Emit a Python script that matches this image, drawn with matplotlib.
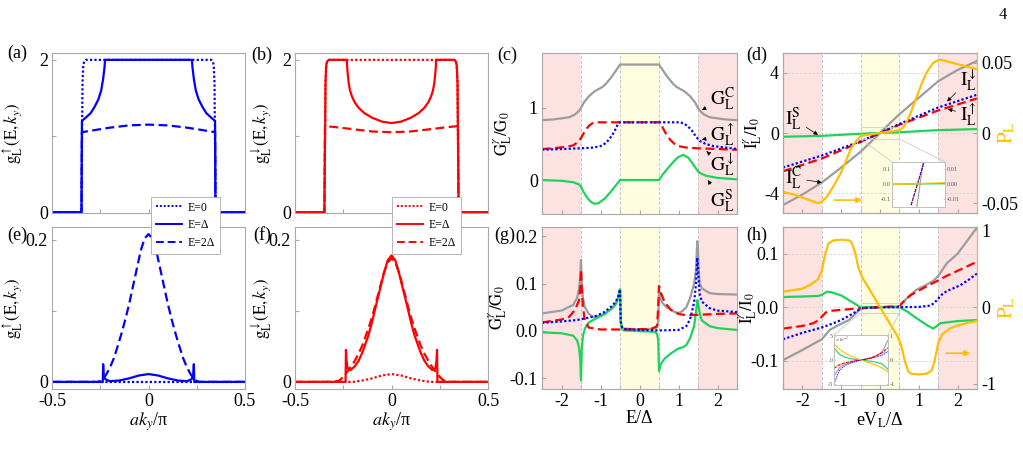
import numpy as np
import matplotlib.pyplot as plt
from matplotlib.lines import Line2D
from matplotlib.patches import Rectangle, ConnectionPatch

plt.rcParams['font.family'] = ['Liberation Serif', 'DejaVu Serif']
plt.rcParams['mathtext.fontset'] = 'stix'
plt.rcParams['axes.unicode_minus'] = False
plt.rcParams['font.size'] = 13

BLUE = '#0000ff'; RED = '#ff0000'; GRAY = '#9c9c9c'; GREEN = '#1fd35a'; GOLD = '#ffbf00'
PINK = '#fde2e2'; YELLOW = '#fefde0'; FRAME = '#a8a8a8'

# ---------------- panel (a): g_L^up, blue ----------------
ka_dot = [-0.5, -0.348, -0.345, -0.342, -0.338, -0.333, -0.325, 0.325, 0.333, 0.338, 0.342, 0.345, 0.348, 0.5]
ga_dot = [0, 0, 0.8, 1.7, 1.93, 1.98, 2.0, 2.0, 1.98, 1.93, 1.7, 0.8, 0, 0]
ka_sol = [-0.5, -0.347, -0.345, -0.33, -0.30, -0.28, -0.26, -0.245, -0.235, -0.228, -0.225,
          0.225, 0.228, 0.235, 0.245, 0.26, 0.28, 0.30, 0.33, 0.345, 0.347, 0.5]
ga_sol = [0, 0, 1.2, 1.23, 1.3, 1.38, 1.48, 1.6, 1.75, 1.9, 2.0,
          2.0, 1.9, 1.75, 1.6, 1.48, 1.38, 1.3, 1.23, 1.2, 0, 0]
ka_dash = [-0.5, -0.347, -0.345, -0.3, -0.2, -0.1, 0, 0.1, 0.2, 0.3, 0.345, 0.347, 0.5]
ga_dash = [0, 0, 1.05, 1.07, 1.11, 1.14, 1.15, 1.14, 1.11, 1.07, 1.05, 0, 0]

# ---------------- panel (b): g_L^down, red ----------------
kb_dot = ka_dot
gb_dot = ga_dot
kb_sol = [-0.5, -0.348, -0.345, -0.342, -0.338, -0.333, -0.325,
          -0.232, -0.228, -0.222, -0.215, -0.205, -0.19, -0.17, -0.14, -0.1, -0.05, 0,
          0.05, 0.1, 0.14, 0.17, 0.19, 0.205, 0.215, 0.222, 0.228, 0.232,
          0.325, 0.333, 0.338, 0.342, 0.345, 0.348, 0.5]
gb_sol = [0, 0, 0.8, 1.7, 1.93, 1.98, 2.0,
          2.0, 1.85, 1.7, 1.6, 1.52, 1.44, 1.37, 1.3, 1.24, 1.19, 1.17,
          1.19, 1.24, 1.3, 1.37, 1.44, 1.52, 1.6, 1.7, 1.85, 2.0,
          2.0, 1.98, 1.93, 1.7, 0.8, 0, 0]
kb_dash = [-0.5, -0.347, -0.345, -0.3, -0.2, -0.1, 0, 0.1, 0.2, 0.3, 0.345, 0.347, 0.5]
gb_dash = [0, 0, 1.13, 1.12, 1.09, 1.06, 1.05, 1.06, 1.09, 1.12, 1.13, 0, 0]

# ---------------- panel (e): blue ----------------
ke_dot = [-0.5, 0.5]
ge_dot = [0, 0]
ke_sol = [-0.5, -0.237, -0.235, -0.232, -0.225, -0.2, -0.15, -0.1, -0.05, 0,
          0.05, 0.1, 0.15, 0.2, 0.225, 0.232, 0.235, 0.237, 0.5]
ge_sol = [0, 0, 0.025, 0.01, 0.004, 0.001, 0.002, 0.005, 0.009, 0.011,
          0.009, 0.005, 0.002, 0.001, 0.004, 0.01, 0.025, 0, 0]
ke_dash = [-0.5, -0.26, -0.24, -0.22, -0.2, -0.18, -0.16, -0.14, -0.12, -0.1, -0.08, -0.06, -0.04, -0.02, 0,
           0.02, 0.04, 0.06, 0.08, 0.1, 0.12, 0.14, 0.16, 0.18, 0.2, 0.22, 0.24, 0.26, 0.5]
ge_dash = [0, 0, 0.003, 0.01, 0.02, 0.033, 0.05, 0.068, 0.088, 0.11, 0.135, 0.16, 0.185, 0.202, 0.208,
           0.202, 0.185, 0.16, 0.135, 0.11, 0.088, 0.068, 0.05, 0.033, 0.02, 0.01, 0.003, 0, 0]

# ---------------- panel (f): red ----------------
kf_dot = [-0.5, -0.2, -0.15, -0.1, -0.05, 0, 0.05, 0.1, 0.15, 0.2, 0.5]
gf_dot = [0, 0, 0.002, 0.005, 0.009, 0.011, 0.009, 0.005, 0.002, 0, 0]
kf_sol = [-0.5, -0.238, -0.236, -0.233, -0.228, -0.22, -0.21, -0.19, -0.17, -0.15, -0.12, -0.1, -0.08,
          -0.06, -0.04, -0.02, 0, 0.02, 0.04, 0.06, 0.08, 0.1, 0.12, 0.15, 0.17, 0.19, 0.21, 0.22,
          0.228, 0.233, 0.236, 0.238, 0.5]
gf_sol = [0, 0, 0.045, 0.03, 0.02, 0.017, 0.017, 0.022, 0.03, 0.042, 0.065, 0.085, 0.108,
          0.13, 0.152, 0.171, 0.178, 0.171, 0.152, 0.13, 0.108, 0.085, 0.065, 0.042, 0.03, 0.022, 0.017, 0.017,
          0.02, 0.03, 0.045, 0, 0]
kf_dash = [-0.5, -0.3, -0.27, -0.25, -0.23, -0.2, -0.17, -0.15, -0.12, -0.1, -0.08, -0.06, -0.04, -0.02, 0,
           0.02, 0.04, 0.06, 0.08, 0.1, 0.12, 0.15, 0.17, 0.2, 0.23, 0.25, 0.27, 0.3, 0.5]
gf_dash = [0, 0, 0.002, 0.007, 0.014, 0.025, 0.04, 0.052, 0.075, 0.092, 0.112, 0.133, 0.153, 0.168, 0.174,
           0.168, 0.153, 0.133, 0.112, 0.092, 0.075, 0.052, 0.04, 0.025, 0.014, 0.007, 0.002, 0, 0]

# ---------------- panel (c): conductances ----------------
E_cC = [-2.5, -2.2, -2.0, -1.8, -1.65, -1.55, -1.5, -1.42, -1.3, -1.15, -1.05, -0.95, -0.85, -0.7, -0.6, -0.5,
        0.5, 0.6, 0.7, 0.85, 0.95, 1.05, 1.15, 1.3, 1.42, 1.5, 1.55, 1.65, 1.8, 2.0, 2.2, 2.5]
G_cC = [0.83, 0.84, 0.855, 0.87, 0.91, 0.96, 1.0, 1.08, 1.16, 1.23, 1.26, 1.29, 1.34, 1.44, 1.52, 1.6,
        1.6, 1.52, 1.44, 1.34, 1.29, 1.26, 1.23, 1.16, 1.08, 1.0, 0.96, 0.91, 0.87, 0.855, 0.84, 0.83]
E_cU = [-2.5, -2.0, -1.5, -1.2, -1.0, -0.9, -0.8, -0.7, -0.6, -0.55, -0.5,
        1.05, 1.15, 1.25, 1.35, 1.45, 1.55, 1.7, 1.9, 2.2, 2.5]
G_cU = [0.42, 0.43, 0.44, 0.45, 0.47, 0.5, 0.55, 0.62, 0.72, 0.78, 0.8,
        0.8, 0.78, 0.74, 0.68, 0.6, 0.54, 0.5, 0.47, 0.45, 0.43]
E_cD = [-2.5, -2.2, -1.9, -1.7, -1.6, -1.5, -1.4, -1.3, -1.2, -1.1,
        0.5, 0.55, 0.6, 0.7, 0.8, 0.9, 1.0, 1.2, 1.5, 2.0, 2.5]
G_cD = [0.43, 0.44, 0.46, 0.48, 0.52, 0.58, 0.68, 0.75, 0.79, 0.8,
        0.8, 0.78, 0.72, 0.62, 0.55, 0.5, 0.47, 0.45, 0.44, 0.43, 0.42]
E_cS = [-2.5, -2.0, -1.7, -1.55, -1.5, -1.45, -1.35, -1.25, -1.15, -1.05, -0.9, -0.75, -0.6, -0.5,
        0.5, 0.6, 0.75, 0.9, 1.0, 1.12, 1.25, 1.35, 1.45, 1.5, 1.55, 1.7, 2.0, 2.5]
G_cS = [0.0, -0.01, -0.03, -0.06, -0.09, -0.15, -0.24, -0.3, -0.33, -0.32, -0.26, -0.17, -0.07, 0.0,
        0.0, 0.08, 0.18, 0.27, 0.32, 0.35, 0.31, 0.24, 0.16, 0.12, 0.1, 0.06, 0.03, 0.01]

# ---------------- panel (g) ----------------
E_gC = [-2.5, -2.0, -1.7, -1.6, -1.55, -1.52, -1.5, -1.48, -1.45, -1.4, -1.3, -1.2, -1.1, -0.9, -0.7, -0.6,
        -0.53, -0.5, -0.48, -0.45, -0.4, 0, 0.4, 0.45, 0.48, 0.5, 0.53, 0.6, 0.7, 0.9, 1.0, 1.1, 1.2, 1.3,
        1.4, 1.45, 1.48, 1.5, 1.52, 1.55, 1.6, 1.8, 2.0, 2.5]
G_gC = [0.037, 0.043, 0.055, 0.07, 0.09, 0.115, 0.15, 0.1, 0.07, 0.05, 0.036, 0.03, 0.03, 0.036, 0.048, 0.058,
        0.075, 0.088, 0.02, 0.008, 0.005, 0.003, 0.005, 0.008, 0.02, 0.09, 0.07, 0.058, 0.05, 0.04, 0.038, 0.042,
        0.05, 0.07, 0.1, 0.13, 0.19, 0.17, 0.12, 0.1, 0.09, 0.08, 0.078, 0.077]
E_gU = [-2.5, -2.0, -1.6, -1.5, -1.3, -1.1, -0.9, -0.7, -0.6, -0.55, -0.5, -0.48, -0.45, -0.4, 0, 0.5, 1.0,
        1.2, 1.3, 1.4, 1.45, 1.48, 1.5, 1.52, 1.55, 1.6, 1.8, 2.0, 2.5]
G_gU = [0.017, 0.02, 0.023, 0.025, 0.028, 0.032, 0.04, 0.053, 0.063, 0.072, 0.088, 0.02, 0.008, 0.004, 0.002,
        0.001, 0.002, 0.01, 0.025, 0.06, 0.1, 0.155, 0.14, 0.1, 0.075, 0.062, 0.048, 0.043, 0.04]
E_gD = [-2.5, -2.0, -1.8, -1.65, -1.55, -1.52, -1.5, -1.48, -1.45, -1.4, -1.3, -1.0, -0.5, 0.3, 0.45, 0.48,
        0.5, 0.55, 0.65, 0.8, 1.0, 1.2, 1.5, 2.0, 2.5]
G_gD = [0.018, 0.024, 0.03, 0.045, 0.065, 0.09, 0.13, 0.09, 0.05, 0.022, 0.007, 0.003, 0.003, 0.004, 0.01, 0.05,
        0.095, 0.08, 0.06, 0.045, 0.036, 0.033, 0.034, 0.036, 0.037]
E_gS = [-2.5, -2.0, -1.7, -1.6, -1.55, -1.52, -1.5, -1.48, -1.45, -1.4, -1.3, -1.1, -0.9, -0.7, -0.6, -0.55,
        -0.5, -0.48, -0.45, -0.4, 0.4, 0.45, 0.48, 0.5, 0.55, 0.65, 0.8, 1.0, 1.1, 1.2, 1.3, 1.4, 1.45, 1.48,
        1.5, 1.55, 1.6, 1.8, 2.0, 2.5]
G_gS = [-0.003, -0.005, -0.01, -0.02, -0.035, -0.06, -0.105, -0.04, -0.01, 0.005, 0.018, 0.027, 0.035, 0.048,
        0.058, 0.07, 0.088, 0.015, 0.004, 0.001, -0.002, -0.006, -0.02, -0.085, -0.07, -0.058, -0.048, -0.037,
        -0.035, -0.03, -0.015, 0.01, 0.04, 0.065, 0.06, 0.035, 0.022, 0.01, 0.006, 0.002]

# ---------------- panel (d): currents ----------------
V_dC = [-2.5, -2.0, -1.5, -1.0, -0.5, -0.25, 0, 0.25, 0.5, 1.0, 1.5, 2.0, 2.5]
I_dC = [-4.8, -4.1, -3.3, -2.3, -1.25, -0.63, 0, 0.63, 1.25, 2.35, 3.45, 4.2, 4.8]
V_dD = [-2.5, -1.5, -0.5, 0, 0.5, 1.5, 2.5]
I_dD = [-2.3, -1.5, -0.55, 0, 0.6, 1.7, 2.55]
V_dU = [-2.5, -1.5, -0.5, 0, 0.5, 1.5, 2.5]
I_dU = [-2.55, -1.7, -0.6, 0, 0.55, 1.5, 2.3]
V_dS = [-2.5, -1.5, -1.0, -0.5, 0, 0.5, 1.0, 1.5, 2.5]
I_dS = [-0.25, -0.19, -0.12, -0.05, 0, 0.05, 0.12, 0.19, 0.26]
V_dP = [-2.5, -2.2, -1.9, -1.7, -1.6, -1.5, -1.37, -1.2, -1.0, -0.85, -0.73, -0.62, -0.55, -0.5, 0,
        0.5, 0.6, 0.69, 0.8, 0.95, 1.1, 1.2, 1.37, 1.5, 1.6, 2.0, 2.5]
P_d = [-0.042, -0.044, -0.047, -0.049, -0.05, -0.049, -0.0455, -0.038, -0.028, -0.018, -0.01, -0.006, -0.0038,
       -0.0021, 0, 0.002, 0.004, 0.008, 0.015, 0.026, 0.037, 0.043, 0.05, 0.052, 0.052, 0.049, 0.0455]

# ---------------- panel (h) ----------------
V_hC = [-2.5, -2.0, -1.5, -1.29, -1.0, -0.8, -0.6, -0.5, -0.4, 0, 0.4, 0.5, 0.6, 0.8, 0.95, 1.2, 1.37, 1.5,
        1.72, 2.0, 2.5]
I_hC = [-0.099, -0.08, -0.06, -0.042, -0.031, -0.024, -0.01, -0.003, -0.001, 0, 0.001, 0.002, 0.01, 0.024,
        0.033, 0.042, 0.049, 0.058, 0.082, 0.1, 0.149]
V_hD = [-2.5, -2.0, -1.72, -1.6, -1.5, -1.4, -1.3, -1.0, -0.5, 0, 0.5, 0.6, 0.78, 1.0, 1.2, 1.5, 1.7, 2.0, 2.5]
I_hD = [-0.04, -0.035, -0.03, -0.025, -0.018, -0.01, -0.007, -0.005, -0.002, 0, 0.002, 0.01, 0.022, 0.031,
        0.039, 0.05, 0.058, 0.068, 0.085]
V_hU = [-2.5, -2.0, -1.5, -1.2, -1.0, -0.7, -0.55, -0.5, 0, 0.5, 1.0, 1.3, 1.4, 1.5, 1.6, 1.72, 2.07, 2.3, 2.5]
I_hU = [-0.06, -0.048, -0.038, -0.03, -0.024, -0.012, -0.005, -0.002, 0, 0.0, 0.0005, 0.003, 0.008, 0.016,
        0.024, 0.03, 0.041, 0.052, 0.063]
V_hS = [-2.5, -2.0, -1.6, -1.5, -1.37, -1.25, -1.0, -0.73, -0.5, 0.5, 0.7, 0.95, 1.2, 1.37, 1.45, 1.55, 2.0, 2.5]
I_hS = [0.019, 0.02, 0.021, 0.023, 0.029, 0.028, 0.022, 0.01, 0.0, 0.0, -0.008, -0.021, -0.033, -0.04, -0.036,
        -0.03, -0.026, -0.024]
V_hP = [-2.5, -2.0, -1.8, -1.6, -1.5, -1.41, -1.33, -1.2, -1.0, -0.8, -0.73, -0.64, -0.55, -0.45, -0.34, -0.2, 0,
        0.2, 0.34, 0.45, 0.55, 0.64, 0.73, 0.8, 1.0, 1.2, 1.33, 1.41, 1.5, 1.6, 1.8, 2.0, 2.5]
P_h = [0.2, 0.24, 0.29, 0.36, 0.47, 0.7, 0.83, 0.87, 0.88, 0.87, 0.84, 0.71, 0.5, 0.38, 0.29, 0.17, 0.0,
       -0.17, -0.29, -0.38, -0.5, -0.71, -0.84, -0.87, -0.88, -0.87, -0.83, -0.7, -0.47, -0.36, -0.28, -0.24, -0.18]

# ---------------- insets ----------------
xd_C = [-0.003, 0.009]; yd_C = [-0.15, 0.15]
xd_UD = [-0.014, 0.011]; yd_UD = [-0.14, 0.15]
xd_S = [-0.05, 0.05]; yd_S = [-0.002, 0.002]
xd_P = [-0.05, 0.05]; yd_P = [-0.0005, 0.0008]

xh = [-0.5, -0.4, -0.3, -0.2, -0.1, 0, 0.1, 0.2, 0.3, 0.4, 0.5]
yh_C = [-3.5, -1.6, -0.9, -0.5, -0.2, 0, 0.2, 0.5, 1.0, 1.9, 4.2]
yh_U = [-5.0, -2.2, -1.2, -0.7, -0.3, 0, 0.2, 0.4, 0.7, 1.1, 1.8]
yh_D = [-1.8, -1.0, -0.6, -0.35, -0.15, 0, 0.2, 0.5, 1.0, 1.6, 2.6]
yh_S = [2.6, 1.2, 0.6, 0.3, 0.1, 0, -0.15, -0.3, -0.5, -0.9, -2.0]
yh_P = [0.68, 0.45, 0.3, 0.18, 0.08, 0, -0.08, -0.15, -0.24, -0.35, -0.5]

W, H = 1023, 450
fig = plt.figure(figsize=(W / 100, H / 100), dpi=100)


def box(l, r, t, b):
    return [l / W, 1 - b / H, (r - l) / W, (b - t) / H]


def style(ax):
    for s in ax.spines.values():
        s.set_color(FRAME)
    ax.tick_params(direction='in', length=3, color=FRAME, labelsize=13, pad=3)


def regions(ax):
    ax.axvspan(-2.5, -1.5, color=PINK, lw=0)
    ax.axvspan(1.5, 2.5, color=PINK, lw=0)
    ax.axvspan(-0.5, 0.5, color=YELLOW, lw=0)
    for x in (-1.5, -0.5, 0.5, 1.5):
        ax.axvline(x, color='#c4c4c4', lw=0.7, ls=(0, (3, 2)))


LW = 1.6
YLS = 12
ax_a = fig.add_axes(box(52, 245, 53, 213))
ax_b = fig.add_axes(box(295, 488, 53, 213))
ax_c = fig.add_axes(box(542, 737, 53, 214))
ax_d = fig.add_axes(box(783, 977, 53, 213))
ax_e = fig.add_axes(box(52, 245, 227, 389))
ax_f = fig.add_axes(box(295, 488, 227, 389))
ax_g = fig.add_axes(box(542, 737, 227, 389))
ax_h = fig.add_axes(box(783, 977, 227, 389))

# (a),(b),(e),(f)
for ax, col, kd, gd, ks, gs, kh, gh in [
        (ax_a, BLUE, ka_dot, ga_dot, ka_sol, ga_sol, ka_dash, ga_dash),
        (ax_b, RED, kb_dot, gb_dot, kb_sol, gb_sol, kb_dash, gb_dash),
        (ax_e, BLUE, ke_dot, ge_dot, ke_sol, ge_sol, ke_dash, ge_dash),
        (ax_f, RED, kf_dot, gf_dot, kf_sol, gf_sol, kf_dash, gf_dash)]:
    ax.plot(kd, gd, color=col, lw=LW, ls=(0, (1, 1)))
    ax.plot(ks, gs, color=col, lw=LW)
    ax.plot(kh, gh, color=col, lw=LW, ls=(0, (4, 2)))
    ax.set_xlim(-0.5, 0.5)
    ax.set_xticks([-0.5, -0.25, 0, 0.25, 0.5])
    style(ax)

for ax in (ax_a, ax_b):
    ax.set_ylim(-0.01, 2.09)
    ax.set_yticks([0, 1, 2])
    ax.set_yticklabels(['0', '', '2'])
    ax.set_xticklabels([])
for ax in (ax_e, ax_f):
    ax.set_ylim(-0.01, 0.218)
    ax.set_yticks([0, 0.1, 0.2])
    ax.set_yticklabels(['0', '', '0.2'])
    ax.set_xticklabels(['-0.5', '', '0', '', '0.5'])
    ax.set_xlabel(r'$ak_y$/π', labelpad=0)

up_lab = r'$\mathrm{g}_\mathrm{L}^{\uparrow}(\mathrm{E},k_y)$'
dn_lab = r'$\mathrm{g}_\mathrm{L}^{\downarrow}(\mathrm{E},k_y)$'
ax_a.set_ylabel(up_lab, fontsize=YLS)
ax_e.set_ylabel(up_lab, fontsize=YLS)
ax_b.set_ylabel(dn_lab, fontsize=YLS)
ax_f.set_ylabel(dn_lab, fontsize=YLS)
for ax in (ax_a, ax_e):
    ax.yaxis.set_label_coords(-0.14, 0.5)
for ax in (ax_b, ax_f):
    ax.yaxis.set_label_coords(-0.11, 0.5)

ticks05 = [-2.5, -2, -1.5, -1, -0.5, 0, 0.5, 1, 1.5, 2, 2.5]
lab05 = ['', '-2', '', '-1', '', '0', '', '1', '', '2', '']

# (c)
regions(ax_c)
ax_c.plot(E_cC, G_cC, color=GRAY, lw=LW)
ax_c.plot(E_cD, G_cD, color=RED, lw=LW, ls=(0, (4, 2)))
ax_c.plot(E_cU, G_cU, color=BLUE, lw=LW, ls=(0, (1, 1)))
ax_c.plot(E_cS, G_cS, color=GREEN, lw=LW)
ax_c.set_xlim(-2.5, 2.5)
ax_c.set_ylim(-0.47, 1.76)
ax_c.set_xticks(ticks05)
ax_c.set_xticklabels([])
ax_c.set_yticks([0, 1])
ax_c.set_ylabel(r'$\mathrm{G}_\mathrm{L}^{\gamma}/\mathrm{G}_0$', fontsize=YLS)
ax_c.yaxis.set_label_coords(-0.145, 0.5)
style(ax_c)
arr = dict(arrowstyle='-|>', color='k', lw=0.5, mutation_scale=6, shrinkA=1, shrinkB=0)
for txt, xy, xyt in [(r'$\mathrm{G}_\mathrm{L}^\mathrm{C}$', (1.6, 0.97), (2.12, 1.12)),
                     (r'$\mathrm{G}_\mathrm{L}^{\uparrow}$', (1.6, 0.56), (2.12, 0.62)),
                     (r'$\mathrm{G}_\mathrm{L}^{\downarrow}$', (1.72, 0.4), (2.12, 0.2)),
                     (r'$\mathrm{G}_\mathrm{L}^\mathrm{S}$', (1.75, 0.0), (2.12, -0.3))]:
    ax_c.annotate(txt, xy=xy, xytext=xyt, ha='center', va='center', fontsize=14, arrowprops=arr)

# (g)
regions(ax_g)
ax_g.plot(E_gC, G_gC, color=GRAY, lw=LW)
ax_g.plot(E_gS, G_gS, color=GREEN, lw=LW)
ax_g.plot(E_gD, G_gD, color=RED, lw=LW, ls=(0, (4, 2)))
ax_g.plot(E_gU, G_gU, color=BLUE, lw=LW, ls=(0, (1, 1)))
ax_g.set_xlim(-2.5, 2.5)
ax_g.set_ylim(-0.123, 0.22)
ax_g.set_xticks(ticks05)
ax_g.set_xticklabels(lab05)
ax_g.set_yticks([-0.1, 0, 0.1, 0.2])
ax_g.set_xlabel('E/Δ', labelpad=0)
ax_g.set_ylabel(r'$\mathrm{G}_\mathrm{L}^{\gamma}/\mathrm{G}_0$', fontsize=YLS)
ax_g.yaxis.set_label_coords(-0.17, 0.5)
style(ax_g)

# (d)
regions(ax_d)
ax_d.grid(axis='y', color='#d4d4d4', lw=0.6, ls=(0, (3, 2)))
ax_d.plot(V_dC, I_dC, color=GRAY, lw=LW)
ax_d.plot(V_dU, I_dU, color=RED, lw=LW, ls=(0, (4, 2)))
ax_d.plot(V_dD, I_dD, color=BLUE, lw=LW, ls=(0, (1, 1)))
ax_d.plot(V_dS, I_dS, color=GREEN, lw=LW)
ax_d.set_xlim(-2.5, 2.5)
ax_d.set_ylim(-5.33, 5.33)
ax_d.set_xticks(ticks05)
ax_d.set_xticklabels([])
ax_d.set_yticks([-4, 0, 4])
ax_d.set_ylabel(r'$\mathrm{I}_\mathrm{L}^{\gamma}/\mathrm{I}_0$', fontsize=YLS)
ax_d.yaxis.set_label_coords(-0.1, 0.5)
style(ax_d)
for txt, xy, xyt in [(r'$\mathrm{I}_\mathrm{L}^{\downarrow}$', (1.73, 2.1), (2.27, 3.5)),
                     (r'$\mathrm{I}_\mathrm{L}^{\uparrow}$', (1.75, 1.6), (2.27, 1.2)),
                     (r'$\mathrm{I}_\mathrm{L}^\mathrm{S}$', (-1.6, -0.12), (-2.22, 0.9)),
                     (r'$\mathrm{I}_\mathrm{L}^\mathrm{C}$', (-1.5, -3.3), (-2.22, -3.0))]:
    ax_d.annotate(txt, xy=xy, xytext=xyt, ha='center', va='center', fontsize=14, arrowprops=arr)
ax_d.annotate('', xy=(-0.39, -4.47), xytext=(-1.24, -4.47),
              arrowprops=dict(arrowstyle='-|>', color=GOLD, lw=1.2, mutation_scale=8))
ax_d.add_patch(Rectangle((-0.5, -0.4), 1.0, 0.8, fill=False, ec='#cccccc', lw=0.6, zorder=3))

ax_d2 = ax_d.twinx()
ax_d2.plot(V_dP, P_d, color=GOLD, lw=LW)
ax_d2.set_ylim(-0.057, 0.057)
ax_d2.set_yticks([-0.05, 0, 0.05])
ax_d2.set_yticklabels(['-0.05', '0', '0.05'])
style(ax_d2)
ax_d2.spines['right'].set_color(GOLD)
ax_d2.set_ylabel(r'$\mathrm{P}_\mathrm{L}$', color=GOLD, fontsize=15)
ax_d2.yaxis.set_label_coords(1.1, 0.5)

# (h)
regions(ax_h)
ax_h.grid(axis='y', color='#d4d4d4', lw=0.6, ls=(0, (3, 2)))
ax_h.plot(V_hC, I_hC, color=GRAY, lw=LW)
ax_h.plot(V_hS, I_hS, color=GREEN, lw=LW)
ax_h.plot(V_hD, I_hD, color=RED, lw=LW, ls=(0, (4, 2)))
ax_h.plot(V_hU, I_hU, color=BLUE, lw=LW, ls=(0, (1, 1)))
ax_h.set_xlim(-2.5, 2.5)
ax_h.set_ylim(-0.153, 0.15)
ax_h.set_xticks(ticks05)
ax_h.set_xticklabels(lab05)
ax_h.set_yticks([-0.1, 0, 0.1])
ax_h.set_xlabel(r'eV$_\mathrm{L}$/Δ', labelpad=0)
ax_h.set_ylabel(r'$\mathrm{I}_\mathrm{L}^{\gamma}/\mathrm{I}_0$', fontsize=YLS)
ax_h.yaxis.set_label_coords(-0.125, 0.5)
style(ax_h)
ax_h.annotate('', xy=(2.4, -0.086), xytext=(1.63, -0.086),
              arrowprops=dict(arrowstyle='-|>', color=GOLD, lw=1.2, mutation_scale=8), zorder=5)
ax_h.add_patch(Rectangle((-0.5, -0.011), 1.0, 0.019, fill=False, ec='#cccccc', lw=0.6, zorder=3))

ax_h2 = ax_h.twinx()
ax_h2.plot(V_hP, P_h, color=GOLD, lw=LW)
ax_h2.set_ylim(-1.07, 1.045)
ax_h2.set_yticks([-1, 0, 1])
style(ax_h2)
ax_h2.spines['right'].set_color(GOLD)
ax_h2.set_ylabel(r'$\mathrm{P}_\mathrm{L}$', color=GOLD, fontsize=15)
ax_h2.yaxis.set_label_coords(1.1, 0.5)


def inset_style(ax):
    for s in ax.spines.values():
        s.set_color('#bbbbbb')
        s.set_linewidth(0.5)
    ax.tick_params(direction='in', length=1.5, width=0.4, color='#bbbbbb', labelsize=4.5, pad=1,
                   labelcolor='#555555')
    ax.set_xticks([])


# inset in (d)
ins_d = fig.add_axes(box(892, 945, 162, 207))
ins_d.set_facecolor('white')
ins_d.plot(xd_S, yd_S, color=GREEN, lw=1.0)
ins_d.plot(xd_C, yd_C, color=GRAY, lw=0.8)
ins_d.plot(xd_UD, yd_UD, color=RED, lw=0.8, ls=(0, (3, 1)))
ins_d.plot(xd_UD, yd_UD, color=BLUE, lw=0.8, ls=(0, (1, 1)))
ins_d.set_xlim(-0.05, 0.05)
ins_d.set_ylim(-0.153, 0.145)
ins_d.set_yticks([-0.1, 0, 0.1])
inset_style(ins_d)
ins_d2 = ins_d.twinx()
ins_d2.plot(xd_P, yd_P, color=GOLD, lw=0.9)
ins_d2.set_ylim(-0.0153, 0.0145)
ins_d2.set_yticks([-0.01, 0, 0.01])
inset_style(ins_d2)
for xa, xb in ((-0.5, 0), (0.5, 1)):
    fig.add_artist(ConnectionPatch(xyA=(xa, -0.4), coordsA=ax_d.transData, xyB=(xb, 1),
                                   coordsB=ins_d.transAxes, color='#cccccc', lw=0.6))

# inset in (h)
ins_h = fig.add_axes(box(834, 888, 335, 385))
ins_h.set_facecolor('white')
ins_h.plot(xh, yh_C, color=GRAY, lw=0.8)
ins_h.plot(xh, yh_S, color=GREEN, lw=0.8)
ins_h.plot(xh, yh_D, color=RED, lw=0.8, ls=(0, (3, 1)))
ins_h.plot(xh, yh_U, color=BLUE, lw=0.8, ls=(0, (1, 1)))
ins_h.set_xlim(-0.5, 0.5)
ins_h.set_ylim(-5.3, 5.3)
ins_h.set_yticks([-5, 0, 5])
inset_style(ins_h)
ins_h.text(0.02, 0.99, r'$\times10^{-3}$', transform=ins_h.transAxes, fontsize=3.5, va='top',
           color='#555555')
ins_h2 = ins_h.twinx()
ins_h2.plot(xh, yh_P, color=GOLD, lw=0.8)
ins_h2.set_ylim(-1.06, 1.06)
ins_h2.set_yticks([-1, 0, 1])
inset_style(ins_h2)
for xa, xb in ((-0.5, 0), (0.5, 1)):
    fig.add_artist(ConnectionPatch(xyA=(xa, -0.011), coordsA=ax_h.transData, xyB=(xb, 1),
                                   coordsB=ins_h.transAxes, color='#cccccc', lw=0.6))

# legends
for col, cx in ((BLUE, 185.5), (RED, 426.5)):
    hs = [Line2D([], [], color=col, lw=1.4, ls=(0, (1, 1))),
          Line2D([], [], color=col, lw=1.4),
          Line2D([], [], color=col, lw=1.4, ls=(0, (4, 2)))]
    leg = fig.legend(hs, ['E=0', 'E=Δ', 'E=2Δ'], loc='center', bbox_to_anchor=(cx / W, 1 - 225.5 / H),
                     fontsize=8.5, handlelength=2.2, handletextpad=0.5, borderpad=0.4, labelspacing=0.5,
                     fancybox=False, framealpha=1, edgecolor='#aaaaaa')
    leg.get_frame().set_linewidth(0.6)

# panel labels
for lab, x, y in [('(a)', 17, 53), ('(b)', 262, 55), ('(c)', 507, 55), ('(d)', 757, 55),
                  ('(e)', 17, 235), ('(f)', 262, 235), ('(g)', 505, 235), ('(h)', 757, 235)]:
    fig.text(x / W, 1 - y / H, lab, ha='center', va='center', fontsize=13)
fig.text(1003 / W, 1 - 15 / H, '4', ha='center', va='center', fontsize=12)

fig.savefig('out.png', dpi=100)
